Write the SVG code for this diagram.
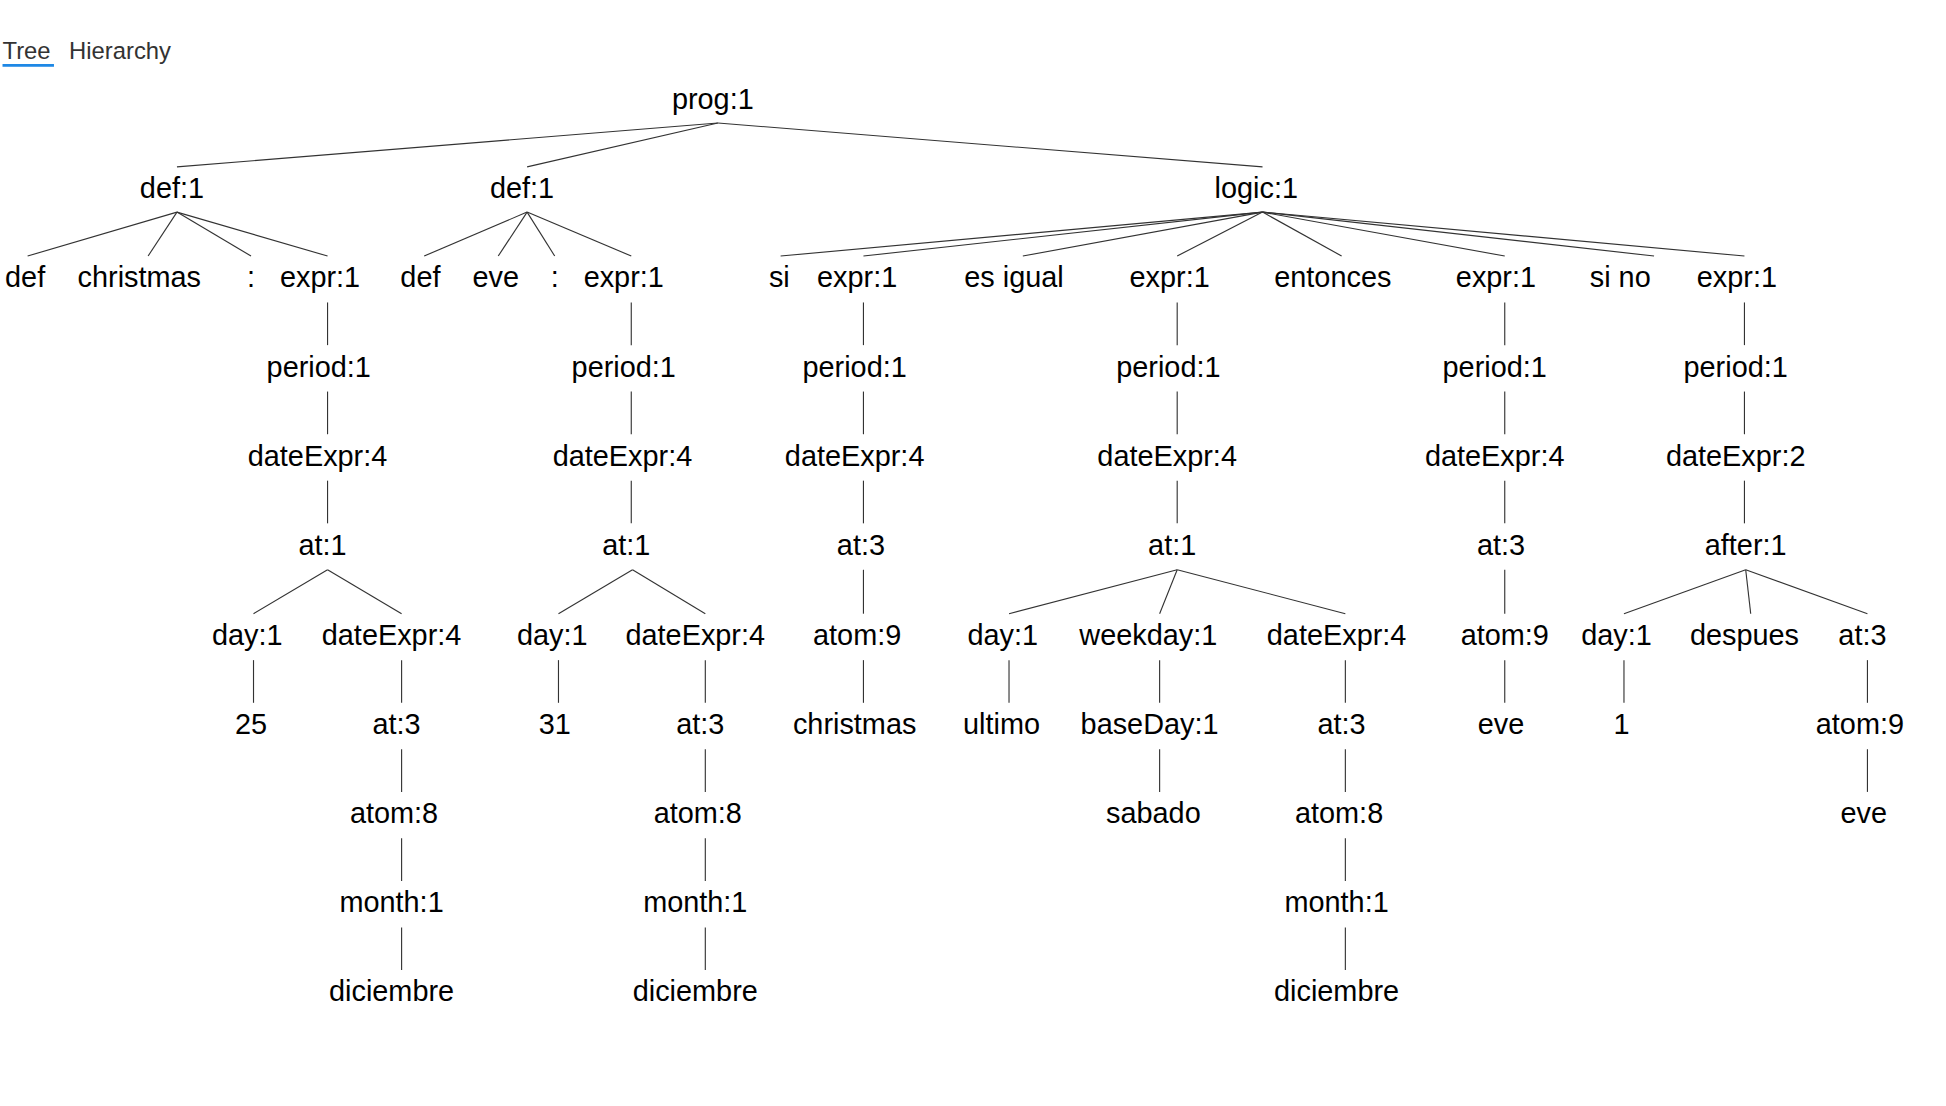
<svg xmlns="http://www.w3.org/2000/svg" width="1946" height="1106" viewBox="0 0 1946 1106">
<style>
text{font-family:"Liberation Sans",Arial,sans-serif;font-size:23px;fill:#000;text-anchor:middle}
.tab{font-size:19px;fill:#333;text-anchor:start}
#edges line{stroke:#333;stroke-width:0.9}
</style>
<rect width="1946" height="1106" fill="#fff"/>
<g transform="scale(1.255)">
<text class="tab" x="2" y="47">Tree</text>
<text class="tab" x="55" y="47">Hierarchy</text>
<rect x="2" y="51" width="41" height="2.2" fill="#1e88e5"/>
<g id="edges">
<line x1="572" y1="98" x2="141" y2="133"/><line x1="572" y1="98" x2="420" y2="133"/><line x1="572" y1="98" x2="1006" y2="133"/>
<line x1="141" y1="169" x2="22" y2="204"/><line x1="141" y1="169" x2="118" y2="204"/><line x1="141" y1="169" x2="200" y2="204"/><line x1="141" y1="169" x2="261" y2="204"/>
<line x1="420" y1="169" x2="338" y2="204"/><line x1="420" y1="169" x2="397" y2="204"/><line x1="420" y1="169" x2="442" y2="204"/><line x1="420" y1="169" x2="503" y2="204"/>
<line x1="1006" y1="169" x2="622" y2="204"/><line x1="1006" y1="169" x2="688" y2="204"/><line x1="1006" y1="169" x2="815" y2="204"/><line x1="1006" y1="169" x2="938" y2="204"/><line x1="1006" y1="169" x2="1069" y2="204"/><line x1="1006" y1="169" x2="1199" y2="204"/><line x1="1006" y1="169" x2="1318" y2="204"/><line x1="1006" y1="169" x2="1390" y2="204"/>
<line x1="261" y1="241" x2="261" y2="275"/><line x1="261" y1="312" x2="261" y2="346"/><line x1="261" y1="383" x2="261" y2="417"/>
<line x1="261" y1="454" x2="202" y2="489"/><line x1="261" y1="454" x2="320" y2="489"/>
<line x1="202" y1="526" x2="202" y2="560"/><line x1="320" y1="526" x2="320" y2="560"/><line x1="320" y1="597" x2="320" y2="631"/><line x1="320" y1="668" x2="320" y2="702"/><line x1="320" y1="739" x2="320" y2="773"/>
<line x1="503" y1="241" x2="503" y2="275"/><line x1="503" y1="312" x2="503" y2="346"/><line x1="503" y1="383" x2="503" y2="417"/>
<line x1="504" y1="454" x2="445" y2="489"/><line x1="504" y1="454" x2="562" y2="489"/>
<line x1="445" y1="526" x2="445" y2="560"/><line x1="562" y1="526" x2="562" y2="560"/><line x1="562" y1="597" x2="562" y2="631"/><line x1="562" y1="668" x2="562" y2="702"/><line x1="562" y1="739" x2="562" y2="773"/>
<line x1="688" y1="241" x2="688" y2="275"/><line x1="688" y1="312" x2="688" y2="346"/><line x1="688" y1="383" x2="688" y2="417"/><line x1="688" y1="454" x2="688" y2="489"/><line x1="688" y1="526" x2="688" y2="560"/>
<line x1="938" y1="241" x2="938" y2="275"/><line x1="938" y1="312" x2="938" y2="346"/><line x1="938" y1="383" x2="938" y2="417"/>
<line x1="938" y1="454" x2="804" y2="489"/><line x1="938" y1="454" x2="924" y2="489"/><line x1="938" y1="454" x2="1072" y2="489"/>
<line x1="804" y1="526" x2="804" y2="560"/><line x1="924" y1="526" x2="924" y2="560"/><line x1="924" y1="597" x2="924" y2="631"/>
<line x1="1072" y1="526" x2="1072" y2="560"/><line x1="1072" y1="597" x2="1072" y2="631"/><line x1="1072" y1="668" x2="1072" y2="702"/><line x1="1072" y1="739" x2="1072" y2="773"/>
<line x1="1199" y1="241" x2="1199" y2="275"/><line x1="1199" y1="312" x2="1199" y2="346"/><line x1="1199" y1="383" x2="1199" y2="417"/><line x1="1199" y1="454" x2="1199" y2="489"/><line x1="1199" y1="526" x2="1199" y2="560"/>
<line x1="1390" y1="241" x2="1390" y2="275"/><line x1="1390" y1="312" x2="1390" y2="346"/><line x1="1390" y1="383" x2="1390" y2="417"/>
<line x1="1391" y1="454" x2="1294" y2="489"/><line x1="1391" y1="454" x2="1395" y2="489"/><line x1="1391" y1="454" x2="1488" y2="489"/>
<line x1="1294" y1="526" x2="1294" y2="560"/><line x1="1488" y1="526" x2="1488" y2="560"/><line x1="1488" y1="597" x2="1488" y2="631"/>
</g>
<g id="n-prog"><text x="568" y="87">prog:1</text></g>
<g id="n-def1"><text x="137" y="158">def:1</text></g>
<g id="n-def2"><text x="416" y="158">def:1</text></g>
<g id="n-logic"><text x="1001" y="158">logic:1</text></g>
<g id="n-a-def"><text x="20" y="229">def</text></g>
<g id="n-a-christmas"><text x="111" y="229">christmas</text></g>
<g id="n-a-colon"><text x="200" y="229">:</text></g>
<g id="n-a-expr"><text x="255" y="229">expr:1</text></g>
<g id="n-a-period"><text x="254" y="300">period:1</text></g>
<g id="n-a-dateExpr"><text x="253" y="371">dateExpr:4</text></g>
<g id="n-a-at"><text x="257" y="442">at:1</text></g>
<g id="n-a-day"><text x="197" y="514">day:1</text></g>
<g id="n-a-dateExpr2"><text x="312" y="514">dateExpr:4</text></g>
<g id="n-a-25"><text x="200" y="585">25</text></g>
<g id="n-a-at3"><text x="316" y="585">at:3</text></g>
<g id="n-a-atom"><text x="314" y="656">atom:8</text></g>
<g id="n-a-month"><text x="312" y="727">month:1</text></g>
<g id="n-a-dic"><text x="312" y="798">diciembre</text></g>
<g id="n-b-def"><text x="335" y="229">def</text></g>
<g id="n-b-eve"><text x="395" y="229">eve</text></g>
<g id="n-b-colon"><text x="442" y="229">:</text></g>
<g id="n-b-expr"><text x="497" y="229">expr:1</text></g>
<g id="n-b-period"><text x="497" y="300">period:1</text></g>
<g id="n-b-dateExpr"><text x="496" y="371">dateExpr:4</text></g>
<g id="n-b-at"><text x="499" y="442">at:1</text></g>
<g id="n-b-day"><text x="440" y="514">day:1</text></g>
<g id="n-b-dateExpr2"><text x="554" y="514">dateExpr:4</text></g>
<g id="n-b-31"><text x="442" y="585">31</text></g>
<g id="n-b-at3"><text x="558" y="585">at:3</text></g>
<g id="n-b-atom"><text x="556" y="656">atom:8</text></g>
<g id="n-b-month"><text x="554" y="727">month:1</text></g>
<g id="n-b-dic"><text x="554" y="798">diciembre</text></g>
<g id="n-c-si"><text x="621" y="229">si</text></g>
<g id="n-c-expr"><text x="683" y="229">expr:1</text></g>
<g id="n-c-period"><text x="681" y="300">period:1</text></g>
<g id="n-c-dateExpr"><text x="681" y="371">dateExpr:4</text></g>
<g id="n-c-at"><text x="686" y="442">at:3</text></g>
<g id="n-c-atom"><text x="683" y="514">atom:9</text></g>
<g id="n-c-christmas"><text x="681" y="585">christmas</text></g>
<g id="n-esigual"><text x="808" y="229">es igual</text></g>
<g id="n-d-expr"><text x="932" y="229">expr:1</text></g>
<g id="n-d-period"><text x="931" y="300">period:1</text></g>
<g id="n-d-dateExpr"><text x="930" y="371">dateExpr:4</text></g>
<g id="n-d-at"><text x="934" y="442">at:1</text></g>
<g id="n-d-day"><text x="799" y="514">day:1</text></g>
<g id="n-d-weekday"><text x="915" y="514">weekday:1</text></g>
<g id="n-d-dateExpr2"><text x="1065" y="514">dateExpr:4</text></g>
<g id="n-d-ultimo"><text x="798" y="585">ultimo</text></g>
<g id="n-d-baseDay"><text x="916" y="585">baseDay:1</text></g>
<g id="n-d-at3"><text x="1069" y="585">at:3</text></g>
<g id="n-d-sabado"><text x="919" y="656">sabado</text></g>
<g id="n-d-atom"><text x="1067" y="656">atom:8</text></g>
<g id="n-d-month"><text x="1065" y="727">month:1</text></g>
<g id="n-d-dic"><text x="1065" y="798">diciembre</text></g>
<g id="n-entonces"><text x="1062" y="229">entonces</text></g>
<g id="n-e-expr"><text x="1192" y="229">expr:1</text></g>
<g id="n-e-period"><text x="1191" y="300">period:1</text></g>
<g id="n-e-dateExpr"><text x="1191" y="371">dateExpr:4</text></g>
<g id="n-e-at"><text x="1196" y="442">at:3</text></g>
<g id="n-e-atom"><text x="1199" y="514">atom:9</text></g>
<g id="n-e-eve"><text x="1196" y="585">eve</text></g>
<g id="n-sino"><text x="1291" y="229">si no</text></g>
<g id="n-f-expr"><text x="1384" y="229">expr:1</text></g>
<g id="n-f-period"><text x="1383" y="300">period:1</text></g>
<g id="n-f-dateExpr"><text x="1383" y="371">dateExpr:2</text></g>
<g id="n-f-after"><text x="1391" y="442">after:1</text></g>
<g id="n-f-day"><text x="1288" y="514">day:1</text></g>
<g id="n-f-despues"><text x="1390" y="514">despues</text></g>
<g id="n-f-at3"><text x="1484" y="514">at:3</text></g>
<g id="n-f-1"><text x="1292" y="585">1</text></g>
<g id="n-f-atom"><text x="1482" y="585">atom:9</text></g>
<g id="n-f-eve"><text x="1485" y="656">eve</text></g>
</g>
</svg>
